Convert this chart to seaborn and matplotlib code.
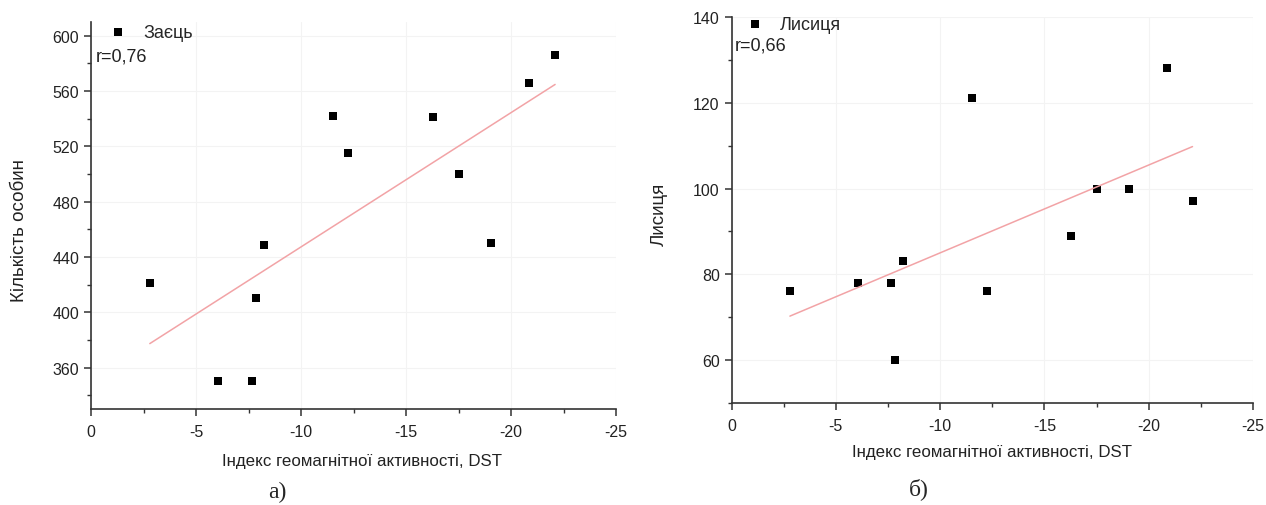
import matplotlib
matplotlib.use("Agg")
import matplotlib.pyplot as plt
from matplotlib.ticker import MultipleLocator
import seaborn as sns
import pandas as pd

dst = [-2.8, -6.05, -7.67, -7.86, -8.24, -11.52, -12.24, -16.29, -17.52, -19.05, -20.86, -22.1]
hare = [421, 350, 350, 410, 449, 542, 515, 541, 500, 450, 566, 586]
fox = [76, 78, 78, 60, 83, 121, 76, 89, 100, 100, 128, 97]

hare_label = "Заєць"
fox_label = "Лисиця"
hare_r = "r=0,76"
fox_r = "r=0,66"
xlabel = "Індекс геомагнітної активності, DST"
hare_ylabel = "Кількість особин"
fox_ylabel = "Лисиця"
captions = ["а)", "б)"]
xticks = [0, -5, -10, -15, -20, -25]
hare_yticks = [360, 400, 440, 480, 520, 560, 600]
fox_yticks = [60, 80, 100, 120, 140]

sns.set_theme(style="white")
plt.rcParams['font.family'] = ['Liberation Sans', 'DejaVu Sans']

W, H = 1266, 506
fig = plt.figure(figsize=(W / 100, H / 100), dpi=100)
ax1 = fig.add_axes([91 / W, 1 - 410 / H, 525 / W, 387 / H])
ax2 = fig.add_axes([731.5 / W, 1 - 404 / H, 521.5 / W, 386 / H])

df = pd.DataFrame({"dst": dst, "hare": hare, "fox": fox})

def draw(ax, col, label, rtext, ylabel, yticks, ylim, minor_y, leg_xy, r_xy,
         xl_xy, yl_xy):
    sns.regplot(data=df, x="dst", y=col, ax=ax, scatter=False, ci=None,
                truncate=True, line_kws=dict(color="#f2a3a6", lw=1.1))
    sns.scatterplot(data=df, x="dst", y=col, ax=ax, marker="s", s=36,
                    color="black", edgecolor="black", linewidth=0, label=label)
    ax.set_xlim(0, -25)
    ax.set_ylim(*ylim)
    ax.set_xticks(xticks)
    ax.set_xticklabels([str(t) for t in xticks])
    ax.set_yticks(yticks)
    ax.xaxis.set_minor_locator(MultipleLocator(2.5))
    ax.yaxis.set_minor_locator(MultipleLocator(minor_y))
    ax.tick_params(axis="both", which="major", direction="out", length=5, width=1.1,
                   colors="#333333", labelsize=11.5, labelcolor="#222222",
                   bottom=True, left=True)
    ax.tick_params(axis="x", which="major", pad=6)
    ax.tick_params(axis="both", which="minor", direction="out", length=3, width=1.0,
                   colors="#333333", bottom=True, left=True)
    for s in ["top", "right"]:
        ax.spines[s].set_visible(False)
    for s in ["left", "bottom"]:
        ax.spines[s].set_color("#333333")
        ax.spines[s].set_linewidth(1.2)
    ax.grid(True, which="major", color="#f3f3f3", lw=0.8)
    ax.set_axisbelow(True)
    ax.set_xlabel(xlabel, fontsize=12.2, color="#222222", va="center")
    ax.set_ylabel(ylabel, fontsize=13.5, color="#222222", va="center")
    ax.xaxis.set_label_coords(*xl_xy)
    ax.yaxis.set_label_coords(*yl_xy)
    ax.legend(loc="center left", frameon=False, fontsize=13,
              handletextpad=0.8, borderaxespad=0.0, borderpad=0.0,
              handlelength=1.2, bbox_to_anchor=leg_xy,
              bbox_transform=fig.transFigure)
    ax.text(r_xy[0] / W, 1 - r_xy[1] / H, rtext, transform=fig.transFigure,
            fontsize=13, color="#222222", ha="left", va="center")

draw(ax1, "hare", hare_label, hare_r, hare_ylabel, hare_yticks, (330, 610), 20,
     (107 / W, 1 - 33 / H), (96, 57),
     ((362 - 91) / 525, -(462 - 410) / 387), ((20 - 91) / 525, (410 - 231) / 387))
draw(ax2, "fox", fox_label, fox_r, fox_ylabel, fox_yticks, (50, 140), 10,
     (744 / W, 1 - 25 / H), (735, 46),
     (0.5, -(453 - 404) / 386), ((659 - 731.5) / 521.5, (404 - 214) / 386))

fig.text(277 / W, 1 - 492 / H, captions[0], fontsize=17, family="Liberation Serif",
         ha="center", va="center")
fig.text(919 / W, 1 - 489 / H, captions[1], fontsize=17, family="Liberation Serif",
         ha="center", va="center")

fig.savefig("out.png", dpi=100)
